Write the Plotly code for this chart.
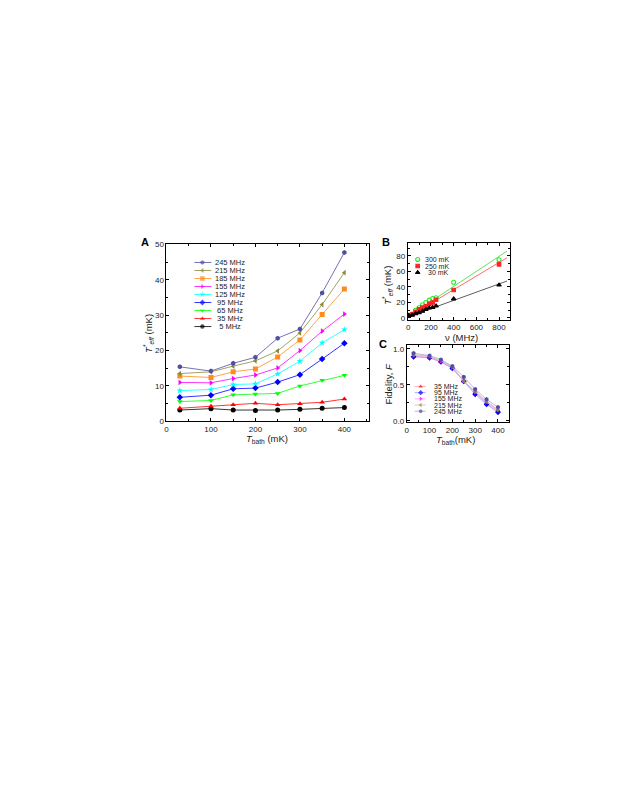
"""Effective temperature and fidelity panels (A, B, C) with Plotly."""
import plotly.graph_objects as go

FONT = 'Liberation Sans, Arial, sans-serif'
W, H = 623, 806

# Panel A: T*_eff vs T_bath for several frequencies
t_bath = [30, 100, 150, 200, 250, 300, 350, 400]
freq_labels = ['245 MHz', '215 MHz', '185 MHz', '155 MHz', '125 MHz',
               '95 MHz', '65 MHz', '35 MHz', '5 MHz']
teff_245 = [15.4, 14.2, 16.4, 18.1, 23.5, 26.1, 36.3, 47.7]
teff_215 = [13.5, 14.0, 15.6, 17.1, 19.9, 25.0, 33.0, 42.0]
teff_185 = [12.8, 12.4, 14.0, 14.8, 18.2, 23.0, 30.2, 37.4]
teff_155 = [11.0, 10.9, 12.1, 13.1, 15.1, 20.0, 25.5, 30.3]
teff_125 = [8.7, 9.0, 10.4, 10.6, 13.4, 17.0, 22.2, 25.9]
teff_95 = [6.8, 7.4, 9.2, 9.4, 11.1, 13.2, 17.6, 22.1]
teff_65 = [5.6, 5.9, 7.5, 7.7, 7.9, 10.0, 11.6, 13.0]
teff_35 = [3.7, 4.3, 4.7, 5.1, 4.7, 5.0, 5.4, 6.3]
teff_5 = [3.2, 3.6, 3.2, 3.1, 3.2, 3.4, 3.7, 3.9]
series_a = [teff_245, teff_215, teff_185, teff_155, teff_125,
            teff_95, teff_65, teff_35, teff_5]
colors_a = ['#4f4f9f', '#8a8a3a', '#ff8c1a', '#ff00ff', '#00ffff',
            '#0000ff', '#00ff00', '#ff0000', '#000000']
symbols_a = ['hexagon', 'triangle-left', 'square', 'triangle-right', 'star',
             'diamond', 'triangle-down', 'triangle-up', 'circle']

# Panel B: T*_eff vs frequency at three bath temperatures
nu = [5, 35, 65, 95, 125, 155, 185, 215, 245, 400, 800]
b_labels = ['300 mK', '250 mK', '30 mK']
b_300 = [3.4, 5.0, 10.0, 13.2, 17.0, 20.0, 23.0, 25.0, 26.1, 46.0, 75.0]
b_250 = [3.2, 4.7, 7.9, 11.1, 13.4, 15.1, 18.2, 19.9, 23.5, 36.0, 69.0]
b_30 = [3.2, 3.7, 5.6, 6.8, 8.7, 11.0, 12.8, 13.5, 15.4, 24.6, 42.4]
fit_nu = [0, 870]
fit_300 = [2.0, 86.0]
fit_250 = [1.5, 77.5]
fit_30 = [1.5, 47.5]

# Panel C: fidelity vs T_bath
c_labels = ['35 MHz', '95 MHz', '155 MHz', '215 MHz', '245 MHz']
fid_35 = [0.90, 0.88, 0.82, 0.73, 0.55, 0.40, 0.24, 0.14]
fid_95 = [0.89, 0.875, 0.82, 0.73, 0.55, 0.37, 0.23, 0.12]
fid_155 = [0.91, 0.89, 0.83, 0.74, 0.56, 0.40, 0.26, 0.15]
fid_215 = [0.92, 0.90, 0.84, 0.75, 0.55, 0.41, 0.27, 0.16]
fid_245 = [0.94, 0.905, 0.85, 0.76, 0.61, 0.44, 0.30, 0.19]
series_c = [fid_35, fid_95, fid_155, fid_215, fid_245]
colors_c = ['#ff0000', '#0000ff', '#ff00ff', '#8a8a3a', '#4f4f9f']
lines_c = ['#ff9a9a', '#9a9aff', '#ff9aff', '#c4c49a', '#a8a8d8']
symbols_c = ['triangle-up', 'diamond', 'triangle-right', 'triangle-left', 'hexagon']


def px_x(x0, x1):
    return [x0 / W, x1 / W]


def px_y(top, bottom):
    return [1 - bottom / H, 1 - top / H]


fig = go.Figure()

# --- panel A ---
for ys, name, col, sym in reversed(list(zip(series_a, freq_labels, colors_a, symbols_a))):
    fig.add_trace(go.Scatter(
        x=t_bath, y=ys, name=name, mode='lines+markers',
        line=dict(color=col, width=0.8),
        marker=dict(symbol=sym, size=5, color=col, line=dict(width=0)),
        xaxis='x', yaxis='y', showlegend=False))

# --- panel B ---
for ys, col in zip([fit_300, fit_250, fit_30], ['#33dd33', '#ff4444', '#333333']):
    fig.add_trace(go.Scatter(x=fit_nu, y=ys, mode='lines',
                             line=dict(color=col, width=0.8),
                             xaxis='x2', yaxis='y2', showlegend=False))
b_style = [('circle-open', '#22ee22', 4), ('square', '#ff2222', 3.5), ('triangle-up', '#000000', 4)]
for ys, (sym, col, sz) in zip([b_300, b_250, b_30], b_style):
    fig.add_trace(go.Scatter(x=nu, y=ys, mode='markers',
                             marker=dict(symbol=sym, size=sz, color=col, line=dict(width=1.1, color=col)),
                             xaxis='x2', yaxis='y2', showlegend=False))

# --- panel C ---
for ys, col, lc, sym in zip(series_c, colors_c, lines_c, symbols_c):
    fig.add_trace(go.Scatter(x=t_bath, y=ys, mode='lines+markers',
                             line=dict(color=lc, width=0.8),
                             marker=dict(symbol=sym, size=4.5, color=col, line=dict(width=0)),
                             xaxis='x3', yaxis='y3', showlegend=False))

# --- hand-made compact legends on an overlay axis in pixel units ---
annotations = []
leg_font = dict(family=FONT, size=7.5, color='#222222')
a_texts = ['245 MHz', '215 MHz', '185 MHz', '155 MHz', '125 MHz',
           ' 95 MHz', ' 65 MHz', ' 35 MHz', '  5 MHz']
for i, (txt, col, sym) in enumerate(zip(a_texts, colors_a, symbols_a)):
    yy = 253.3 + i * 8.1
    fig.add_trace(go.Scatter(x=[185, 193, 202], y=[yy, yy, yy], mode='lines+markers',
                             line=dict(color=col, width=0.8),
                             marker=dict(symbol=sym, size=[0, 4.5, 0], color=col, line=dict(width=0)),
                             xaxis='x4', yaxis='y4', showlegend=False))
    annotations.append(dict(x=204, y=yy, xref='x4', yref='y4', text=txt, showarrow=False,
                            xanchor='left', yanchor='middle', font=leg_font))

for i, (txt, (sym, col, sz)) in enumerate(zip(b_labels, b_style)):
    yy = 250.3 + i * 6.6
    fig.add_trace(go.Scatter(x=[409], y=[yy], mode='markers',
                             marker=dict(symbol=sym, size=sz, color=col, line=dict(width=1.1, color=col)),
                             xaxis='x4', yaxis='y4', showlegend=False))
    annotations.append(dict(x=442, y=yy, xref='x4', yref='y4', text=txt, showarrow=False,
                            xanchor='right', yanchor='middle', font=dict(family=FONT, size=7, color='#222222')))

for i, (txt, col, lc, sym) in enumerate(zip(c_labels, colors_c, lines_c, symbols_c)):
    yy = 378.7 + i * 6.25
    fig.add_trace(go.Scatter(x=[406, 412, 417], y=[yy, yy, yy], mode='lines+markers',
                             line=dict(color=lc, width=0.8),
                             marker=dict(symbol=sym, size=[0, 4, 0], color=col, line=dict(width=0)),
                             xaxis='x4', yaxis='y4', showlegend=False))
    annotations.append(dict(x=423, y=yy, xref='x4', yref='y4', text=txt, showarrow=False,
                            xanchor='left', yanchor='middle', font=dict(family=FONT, size=7, color='#222222')))

# panel letters
for letter, x, y in [('A', 135, 233), ('B', 377, 233), ('C', 374, 336)]:
    annotations.append(dict(x=x, y=y, xref='x4', yref='y4', text='<b>%s</b>' % letter,
                            showarrow=False, xanchor='center', yanchor='middle',
                            font=dict(family=FONT, size=11, color='black')))

# axis titles placed as text in pixel units
teff_title = '<i>T</i><sup>*</sup><sub><i>eff</i></sub> (mK)'
title_font = dict(family=FONT, size=9.5, color='#222222')
axis_titles = [
    ('<i>T</i><sub>bath</sub> (mK)', 258, 432, 0),
    (teff_title, 139, 325, -90),
    ('ν (MHz)', 453, 329, 0),
    (teff_title, 379, 276, -90),
    ('<i>T</i><sub>bath</sub>(mK)', 447, 433, 0),
    ('Fidelity, <i>F</i>', 380, 376, -90),
]
for txt, x, y, ang in axis_titles:
    annotations.append(dict(x=x, y=y, xref='x4', yref='y4', text=txt, showarrow=False,
                            xanchor='center', yanchor='middle', textangle=ang, font=title_font))


def axis_style(**kw):
    base = dict(showline=True, linecolor='black', linewidth=1, mirror='ticks',
                ticks='inside', ticklen=3, tickwidth=1, tickcolor='black',
                showgrid=False, zeroline=False,
                tickfont=dict(family=FONT, size=8, color='#222222'))
    base.update(kw)
    return base


fig.update_layout(
    width=W, height=H, autosize=False,
    margin=dict(l=0, r=0, t=0, b=0),
    paper_bgcolor='white', plot_bgcolor='rgba(0,0,0,0)',
    font=dict(family=FONT),
    xaxis=axis_style(domain=px_x(157, 360), range=[0, 455], dtick=100,
                     minor=dict(ticks='inside', ticklen=2, dtick=50, tickcolor='black'), anchor='y'),
    yaxis=axis_style(domain=px_y(235, 414), range=[0, 50], dtick=10,
                     minor=dict(ticks='inside', ticklen=2, dtick=5, tickcolor='black'), anchor='x'),
    xaxis2=axis_style(domain=px_x(399, 502), range=[-5, 900], dtick=200,
                      minor=dict(ticks='inside', ticklen=2, dtick=100, tickcolor='black'), anchor='y2'),
    yaxis2=axis_style(domain=px_y(234, 311), range=[-2, 96], dtick=20,
                      minor=dict(ticks='inside', ticklen=2, dtick=10, tickcolor='black'), anchor='x2'),
    xaxis3=axis_style(domain=px_x(398, 501), range=[0, 450], dtick=100,
                      minor=dict(ticks='inside', ticklen=2, dtick=50, tickcolor='black'), anchor='y3'),
    yaxis3=axis_style(domain=px_y(337, 415), range=[-0.02, 1.05],
                      tickvals=[0, 0.5, 1.0], ticktext=['0.0', '0.5', '1.0'],
                      minor=dict(ticks='inside', ticklen=2, tickvals=[0.25, 0.75], tickcolor='black'),
                      anchor='x3'),
    xaxis4=dict(domain=[0, 1], range=[0, W], visible=False, fixedrange=True, anchor='y4'),
    yaxis4=dict(domain=[0, 1], range=[H, 0], visible=False, fixedrange=True, anchor='x4'),
    annotations=annotations,
)

fig.write_html('out.html')
